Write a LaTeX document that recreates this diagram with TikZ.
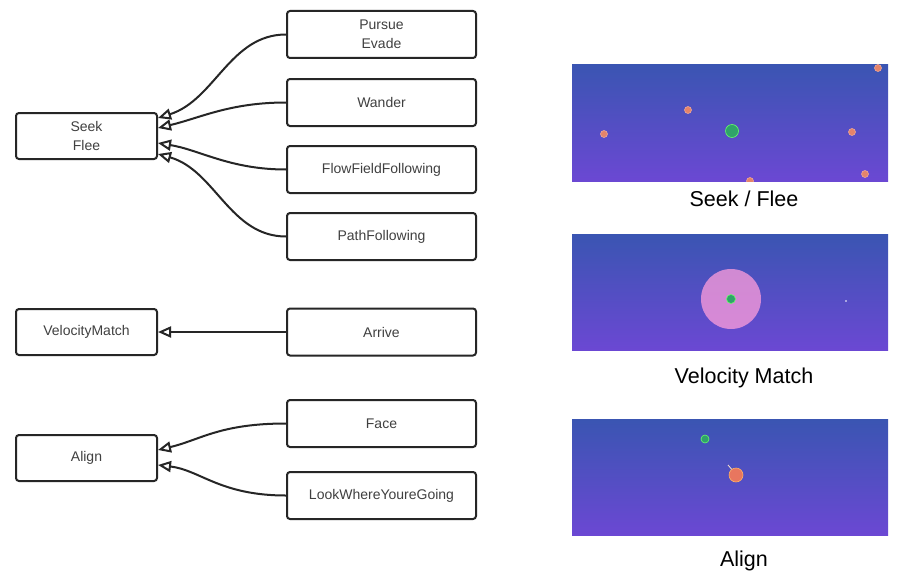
\documentclass[tikz,border=0pt]{standalone}
\usepackage{fontspec}
\setmainfont{Liberation Sans}
\usetikzlibrary{arrows.meta}
\begin{document}
\begin{tikzpicture}[x=1pt,y=-1pt,
  box/.style={draw=black!85,line width=2pt,rounded corners=3pt,minimum width=189pt,minimum height=47pt,align=center,font=\fontsize{14}{18.5}\selectfont,text=black!75},
  lbox/.style={box,minimum width=141pt,minimum height=46pt},
  con/.style={draw=black!85,line width=2pt,-{Triangle[open,length=13pt,width=11pt,fill=white]}},
  captxt/.style={font=\fontsize{21.5}{26}\selectfont},
  panel/.style={top color=pA,bottom color=pB,draw=none}]
\definecolor{pA}{HTML}{3A55B2}
\definecolor{pB}{HTML}{6B48D3}
\definecolor{org}{HTML}{E5836A}
\definecolor{grn}{HTML}{2FA36A}
\useasboundingbox (0,0) rectangle (904,578);
\fill[white] (0,0) rectangle (904,578);
\node[lbox] (seek) at (86.5,136) {Seek\\Flee};
\node[lbox] (vm) at (86.5,332) {VelocityMatch};
\node[lbox] (al) at (86.5,458) {Align};
\node[box] (pe) at (381.5,34.5) {Pursue\\Evade};
\node[box] (wa) at (381.5,102.5) {Wander};
\node[box] (ff) at (381.5,169.5) {FlowFieldFollowing};
\node[box] (pf) at (381.5,236.5) {PathFollowing};
\node[box] (ar) at (381.5,332) {Arrive};
\node[box] (fa) at (381.5,423.5) {Face};
\node[box] (lw) at (381.5,495.5) {LookWhereYoureGoing};
\coordinate (t1) at (158,118);
\coordinate (t2) at (158,128);
\coordinate (t3) at (158,143);
\coordinate (t4) at (158,154);
\coordinate (t5) at (158,450);
\coordinate (t6) at (158,465);
\draw[con] (pe.west) .. controls (230,34.5) and (215,100) .. (t1);
\draw[con] (wa.west) .. controls (230,102.5) and (200,118) .. (t2);
\draw[con] (ff.west) .. controls (230,169.5) and (200,150) .. (t3);
\draw[con] (pf.west) .. controls (230,236.5) and (215,170) .. (t4);
\draw[con] (ar.west) -- (vm.east);
\draw[con] (fa.west) .. controls (220,423.5) and (200,440) .. (t5);
\draw[con] (lw.west) .. controls (220,495.5) and (200,470) .. (t6);
% panels
\shade[panel] (572,64) rectangle (888,181);
\shade[panel] (572,234) rectangle (888,350);
\shade[panel] (572,419) rectangle (888,535);
\begin{scope}
\clip (572,64) rectangle (888,181);
\foreach \p in {(604,134),(688,110),(852,132),(878,68),(865,174),(750,181)}
  \fill[org,draw=org!70!white,line width=0.6pt] \p circle (3.5);
\fill[grn,draw=green!60!white,line width=0.6pt] (732,131) circle (6.5);
\end{scope}
\fill[pink!70!magenta!80!white,opacity=0.75] (731,299) circle (30);
\fill[grn,draw=green!60!white,line width=0.6pt] (731,299) circle (4.5);
\fill[white] (846,301) circle (0.8);
\fill[grn,draw=green!60!white,line width=0.6pt] (705,439) circle (4);
\draw[white!80!orange,line width=0.8pt] (728,465) -- (734,472);
\fill[org!90!red,draw=orange!60!white,line width=0.6pt] (736,475) circle (7);
\node[captxt] (c1) at (744,199) {Seek / Flee};
\node[captxt] (c2) at (744,378) {Velocity Match};
\node[captxt] (c3) at (744,561) {Align};
\end{tikzpicture}
\end{document}
